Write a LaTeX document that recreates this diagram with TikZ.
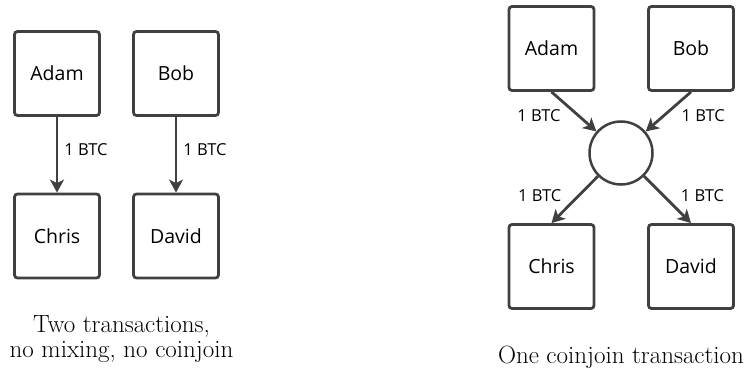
\documentclass[tikz,border=0pt]{standalone}
\usepackage{fontspec}
\newfontfamily\boxfont{Open Sans}
\usepackage{tikz}
\usetikzlibrary{arrows.meta}
\definecolor{slate}{RGB}{64,64,64}
\tikzset{>={Stealth[length=13pt,width=14pt,inset=3.5pt]}}
\tikzset{%
    person/.style={draw=slate, line width=2.8pt, rounded corners=3pt,
        minimum width=85pt, minimum height=84pt, inner sep=0pt,
        font=\boxfont\fontsize{19.5}{22}\selectfont},
    mixer/.style={draw=slate, line width=2.5pt, circle, minimum size=63pt, inner sep=0pt},
    flow/.style={->, draw=slate, line width=2.8pt},
    btc/.style={inner sep=0pt, text=black, font=\boxfont\fontsize{16.5}{18}\selectfont},
    caption/.style={align=center, inner sep=0pt, font=\fontsize{25}{25}\selectfont}
}

\begin{document}
\begin{tikzpicture}[x=1pt,y=-1pt]
    \useasboundingbox (0,0) rectangle (745,369);
    % two separate transactions
    \node[person] (adam) at (57,73.5) {Adam};
    \node[person] (bob) at (176,73.5) {Bob};
    \node[person] (chris) at (57,236) {Chris};
    \node[person] (david) at (176,236) {David};
    \draw[flow] (adam) -- node[btc, midway, right=6pt, yshift=5pt]{1 BTC} (chris);
    \draw[flow] (bob) -- node[btc, midway, right=6pt, yshift=5pt]{1 BTC} (david);
    \node[caption] (capL) at (121.5,339) {Two transactions,\\no mixing, no coinjoin};
    % one coinjoin
    \node[person] (adam2) at (551.5,48.5) {Adam};
    \node[person] (bob2) at (691,48.5) {Bob};
    \node[person] (chris2) at (551.5,266.5) {Chris};
    \node[person] (david2) at (691,266.5) {David};
    \node[mixer] (mix) at (621,153) {};
    \draw[flow] (adam2.south) -- node[btc, midway, left=12pt, yshift=-4pt]{1 BTC} (mix);
    \draw[flow] (bob2.south) -- node[btc, midway, right=12pt, yshift=-4pt]{1 BTC} (mix);
    \draw[flow] (mix) -- node[btc, midway, left=12pt, yshift=4pt]{1 BTC} (chris2.north);
    \draw[flow] (mix) -- node[btc, midway, right=12pt, yshift=4pt]{1 BTC} (david2.north);
    \node[caption] (capR) at (621,357) {One coinjoin transaction};
\end{tikzpicture}
\end{document}
